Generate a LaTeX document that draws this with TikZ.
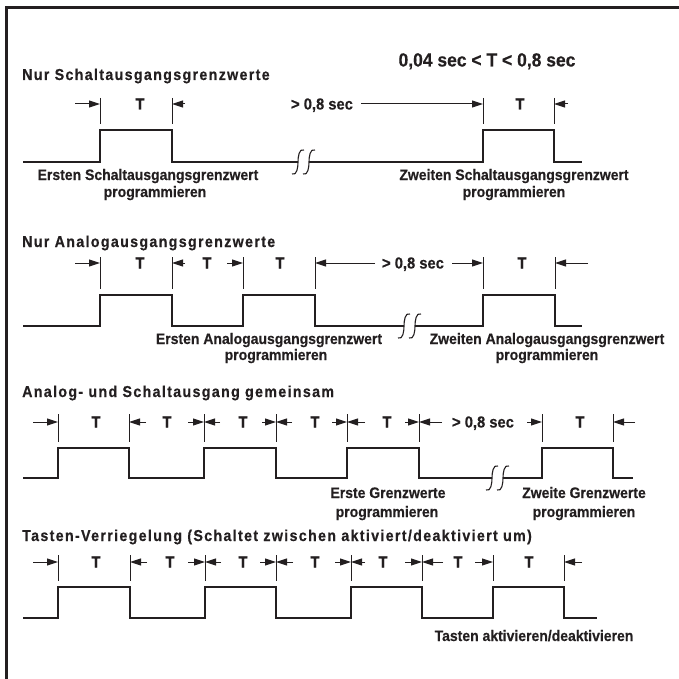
\documentclass[tikz,border=0pt]{standalone}
\usepackage{fontspec}
\setmainfont{Liberation Sans}[FakeStretch=0.92, BoldFeatures={FakeBold=0.4}]
\newfontfamily\titlefont{Liberation Sans}[FakeStretch=0.9, LetterSpace=8.5, BoldFeatures={FakeBold=0.5}]
\usetikzlibrary{arrows.meta}

\definecolor{inkgray}{HTML}{231F20}
\newcommand{\wavebreak}[2]{%
  \draw[line width=1.1pt, draw=inkgray] (#1-6,#2+12) .. controls (#1-1,#2+14) and (#1,#2+5) .. (#1,#2) .. controls (#1,#2-5) and (#1+1,#2-14) .. (#1+6,#2-12);
  \draw[line width=1.1pt, draw=inkgray] (#1+5,#2+12) .. controls (#1+10,#2+14) and (#1+11,#2+5) .. (#1+11,#2) .. controls (#1+11,#2-5) and (#1+12,#2-14) .. (#1+17,#2-12);}

\begin{document}
\begin{tikzpicture}[x=1pt,y=-1pt,
  pulse/.style={line width=1.7pt, draw=inkgray, line join=miter},
  boldpulse/.style={pulse, line width=2.4pt},
  tickln/.style={line width=1pt, draw=inkgray},
  dimarr/.style={line width=1pt, draw=inkgray, -{Triangle[length=11pt,width=7pt]}},
  ttl/.style={anchor=base west, inner sep=0pt, text=inkgray, font=\titlefont\fontsize{15.8}{18}\selectfont\bfseries},
  lbl/.style={anchor=base, inner sep=0pt, text=inkgray, font=\fontsize{15.2}{17}\selectfont\bfseries},
  tl/.style={anchor=base, inner sep=0pt, text=inkgray, font=\fontsize{16}{17}\selectfont\bfseries}]
  \useasboundingbox (0,0) rectangle (679,679);
  \draw[line width=2.6pt, draw=inkgray] (6.5,679) -- (6.5,7.5) -- (679,7.5);

  % Nur Schaltausgangsgrenzwerte
  \node[ttl] (title1) at (22,80) {Nur Schaltausgangsgrenzwerte};
  \node[tl, font=\fontsize{19}{21}\selectfont\bfseries] (range) at (487,66.5) {0,04 sec < T < 0,8 sec};
  \draw[pulse] (23,162) -- (100,162) -- (100,130) -- (172,130) -- (172,162) -- (298,162);
  \draw[pulse] (309,162) -- (483,162) -- (483,130) -- (554,130) -- (554,162) -- (582,162);
  \wavebreak{298}{162}
  \foreach \x in {100,172,483,554} \draw[tickln] (\x,98) -- (\x,124);
  \draw[dimarr] (75,104) -- (100,104);
  \draw[dimarr] (185,104) -- (172,104);
  \draw[dimarr] (361,104) -- (483,104);
  \draw[dimarr] (568,104) -- (554,104);
  \node[tl] (t11) at (140,109.5) {T};
  \node[tl] (gap1) at (322,109.5) {> 0,8 sec};
  \node[tl] (t12) at (520,109.5) {T};
  \node[lbl] (first1) at (148,180) {Ersten Schaltausgangsgrenzwert};
  \node[lbl] (first1p) at (155,197) {programmieren};
  \node[lbl] (second1) at (514,180) {Zweiten Schaltausgangsgrenzwert};
  \node[lbl] (second1p) at (514,197) {programmieren};

  % Nur Analogausgangsgrenzwerte
  \node[ttl] (title2) at (22,247) {Nur Analogausgangsgrenzwerte};
  \draw[pulse] (23,326) -- (100,326) -- (100,295) -- (172,295) -- (172,326) -- (243,326) -- (243,295) -- (315,295) -- (315,326) -- (404,326);
  \draw[boldpulse] (100,326) -- (100,295) -- (172,295) -- (172,326);
  \draw[pulse] (415,326) -- (483,326) -- (483,295) -- (555,295) -- (555,326) -- (582,326);
  \wavebreak{404}{326}
  \foreach \x in {100,172,243,315,483,555} \draw[tickln] (\x,257) -- (\x,289);
  \draw[dimarr] (75,263) -- (100,263);
  \draw[dimarr] (185,263) -- (172,263);
  \draw[dimarr] (227,263) -- (243,263);
  \draw[dimarr] (375,263) -- (315,263);
  \draw[dimarr] (452,263) -- (483,263);
  \draw[dimarr] (588,263) -- (555,263);
  \node[tl] (t21) at (140,268.5) {T};
  \node[tl] (t22) at (207,268.5) {T};
  \node[tl] (t23) at (280,268.5) {T};
  \node[tl] (gap2) at (413,268.5) {> 0,8 sec};
  \node[tl] (t24) at (522,268.5) {T};
  \node[lbl] (first2) at (269,344) {Ersten Analogausgangsgrenzwert};
  \node[lbl] (first2p) at (276,360) {programmieren};
  \node[lbl] (second2) at (547,344) {Zweiten Analogausgangsgrenzwert};
  \node[lbl] (second2p) at (547,360) {programmieren};

  % Analog- und Schaltausgang gemeinsam
  \node[ttl] (title3) at (22,397) {Analog- und Schaltausgang gemeinsam};
  \draw[pulse] (23,478) -- (58,478) -- (58,448) -- (129,448) -- (129,478) -- (204,478) -- (204,448) -- (276,448) -- (276,478) -- (347,478) -- (347,448) -- (419,448) -- (419,478) -- (492,478);
  \draw[boldpulse] (58,478) -- (58,448) -- (129,448) -- (129,478);
  \draw[pulse] (503,478) -- (542,478) -- (542,448) -- (613,448) -- (613,478) -- (633,478);
  \wavebreak{492}{478}
  \foreach \x in {58,129,204,276,347,419,542,613} \draw[tickln] (\x,414) -- (\x,442);
  \draw[dimarr] (33,422) -- (58,422);
  \draw[dimarr] (146,422) -- (129,422);
  \foreach \x/\a/\b in {204/188/220, 276/262/292, 347/332/365} {
    \draw[dimarr] (\a,422) -- (\x,422);
    \draw[dimarr] (\b,422) -- (\x,422);
  }
  \draw[dimarr] (405,422) -- (419,422);
  \draw[dimarr] (442,422) -- (419,422);
  \draw[dimarr] (527,422) -- (542,422);
  \draw[dimarr] (635,422) -- (613,422);
  \node[tl] (t31) at (96,427.5) {T};
  \node[tl] (t32) at (167,427.5) {T};
  \node[tl] (t33) at (243,427.5) {T};
  \node[tl] (t34) at (315,427.5) {T};
  \node[tl] (t35) at (387,427.5) {T};
  \node[tl] (gap3) at (483,427.5) {> 0,8 sec};
  \node[tl] (t36) at (580,427.5) {T};
  \node[lbl] (first3) at (388,498) {Erste Grenzwerte};
  \node[lbl] (first3p) at (387,517) {programmieren};
  \node[lbl] (second3) at (584,498) {Zweite Grenzwerte};
  \node[lbl] (second3p) at (584,517) {programmieren};

  % Tasten-Verriegelung
  \node[ttl] (title4) at (22,541) {Tasten-Verriegelung (Schaltet zwischen aktiviert/deaktiviert um)};
  \draw[pulse] (23,618) -- (58,618) -- (58,587) -- (130,587) -- (130,618) -- (205,618) -- (205,587) -- (276,587) -- (276,618) -- (351,618) -- (351,587) -- (422,587) -- (422,618) -- (493,618) -- (493,587) -- (564,587) -- (564,618) -- (597,618);
  \draw[boldpulse] (58,618) -- (58,587) -- (130,587) -- (130,618);
  \foreach \x in {58,130,205,276,351,422,493,564} \draw[tickln] (\x,555) -- (\x,581);
  \draw[dimarr] (33,562) -- (58,562);
  \draw[dimarr] (147,562) -- (130,562);
  \foreach \x/\a/\b in {205/188/221, 276/260/293, 351/335/365, 422/405/443} {
    \draw[dimarr] (\a,562) -- (\x,562);
    \draw[dimarr] (\b,562) -- (\x,562);
  }
  \draw[dimarr] (475,562) -- (493,562);
  \draw[dimarr] (582,562) -- (564,562);
  \foreach \x [count=\i] in {96,170,243,315,383,458,529} \node[tl] (t4\i) at (\x,567.5) {T};
  \node[lbl] (toggle) at (534,641) {Tasten aktivieren/deaktivieren};
\end{tikzpicture}
\end{document}
